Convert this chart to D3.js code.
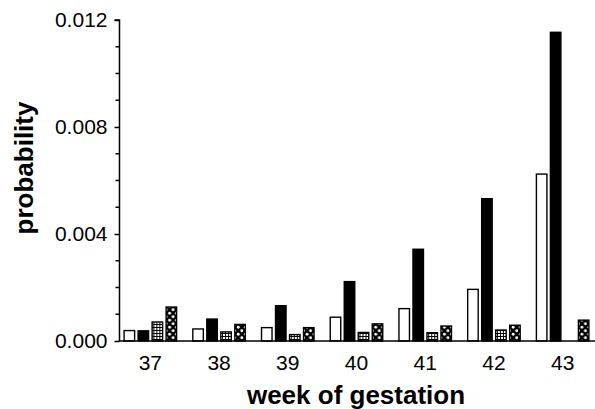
<!DOCTYPE html>
<html><head><meta charset="utf-8">
<script src="https://cdn.jsdelivr.net/npm/d3@7"></script>
<style>body{margin:0;background:#fff}svg{display:block}</style>
</head><body>
<script>
const weeks = ["37","38","39","40","41","42","43"];
const seriesNames = ["open","solid","grid","dotted"];
const openVals   = [0.00039, 0.00045, 0.00050, 0.00089, 0.00121, 0.00193, 0.00624];
const solidVals  = [0.00038, 0.00082, 0.00132, 0.00222, 0.00343, 0.00532, 0.01154];
const gridVals   = [0.00071, 0.00034, 0.00024, 0.00032, 0.00031, 0.00041, null];
const dottedVals = [0.00127, 0.00062, 0.00050, 0.00064, 0.00056, 0.00059, 0.00078];
const yTicks = [0, 0.004, 0.008, 0.012];
const yMinorTicks = [0.001,0.002,0.003,0.005,0.006,0.007,0.009,0.010,0.011];

const W = 595, H = 409;
const svg = d3.select("body").append("svg").attr("width", W).attr("height", H);
const defs = svg.append("defs");
const gp = defs.append("pattern").attr("id","gridpat").attr("patternUnits","userSpaceOnUse").attr("width",3).attr("height",3);
gp.append("rect").attr("width",3).attr("height",3).attr("fill","#000");
gp.append("rect").attr("x",1).attr("y",1).attr("width",2).attr("height",2).attr("fill","#fff");
const dp = defs.append("pattern").attr("id","dotpat").attr("patternUnits","userSpaceOnUse").attr("width",7).attr("height",7);
dp.append("rect").attr("width",7).attr("height",7).attr("fill","#000");
dp.append("circle").attr("cx",1.75).attr("cy",1.75).attr("r",1.4).attr("fill","#fff");
dp.append("circle").attr("cx",5.25).attr("cy",5.25).attr("r",1.4).attr("fill","#fff");

const fills = {open:"#fff", solid:"#000", grid:"url(#gridpat)", dotted:"url(#dotpat)"};
const data = weeks.map((w,i)=>({week:w, values:[
  {s:"open", v:openVals[i]}, {s:"solid", v:solidVals[i]},
  {s:"grid", v:gridVals[i]}, {s:"dotted", v:dottedVals[i]}]}));

const x0 = d3.scaleBand().domain(weeks).range([116, 597]);
const x1 = d3.scaleBand().domain(seriesNames).range([-26.25, 26.25]).paddingInner(0.25);
const y = d3.scaleLinear().domain([0, 0.012]).range([341, 20]);
const axisX = 119.5;

// bars
const g = svg.append("g");
g.selectAll("g.grp").data(data).join("g").attr("class","grp")
  .attr("transform", d=>`translate(${x0(d.week)+x0.bandwidth()/2},0)`)
  .selectAll("rect").data(d=>d.values.filter(e=>e.v!=null)).join("rect")
  .attr("x", d=>x1(d.s)).attr("width", x1.bandwidth())
  .attr("y", d=>y(d.v)).attr("height", d=>y(0)-y(d.v))
  .attr("fill", d=>fills[d.s]).attr("stroke","#000").attr("stroke-width",1.4);

// y axis
const yAxis = d3.axisLeft(y).tickValues(yTicks).tickFormat(d3.format(".3f")).tickSize(5).tickPadding(7);
const ya = svg.append("g").attr("transform",`translate(${axisX},0)`).call(yAxis);
ya.select(".domain").attr("stroke-width",1.5).attr("d", `M-5,${y(0.012)}H0V${y(0)}`);
ya.selectAll(".tick line").attr("stroke-width",1.5);
ya.selectAll("text").attr("font-family","Liberation Sans, Arial, sans-serif").attr("font-size",21).attr("fill","#000");
ya.selectAll(".minor").data(yMinorTicks).join("line").attr("class","minor")
  .attr("x1",-4).attr("x2",0).attr("y1",d=>y(d)).attr("y2",d=>y(d)).attr("stroke","#000").attr("stroke-width",1.5);

// x axis
const xAxis = d3.axisBottom(x0).tickSize(0).tickPadding(14);
const xa = svg.append("g").attr("transform",`translate(0,${y(0)})`).call(xAxis);
xa.select(".domain").attr("stroke-width",1.5).attr("d",`M${axisX-0.75},0H${W}`);
xa.selectAll("text").attr("font-family","Liberation Sans, Arial, sans-serif").attr("font-size",21).attr("fill","#000");

// titles
svg.append("text").attr("x",356).attr("y",404).attr("text-anchor","middle")
  .attr("font-family","Liberation Sans, Arial, sans-serif").attr("font-weight","bold").attr("font-size",26)
  .text("week of gestation");
svg.append("text").attr("transform","translate(33,168) rotate(-90)").attr("text-anchor","middle")
  .attr("font-family","Liberation Sans, Arial, sans-serif").attr("font-weight","bold").attr("font-size",26)
  .text("probability");
</script>
</body></html>
